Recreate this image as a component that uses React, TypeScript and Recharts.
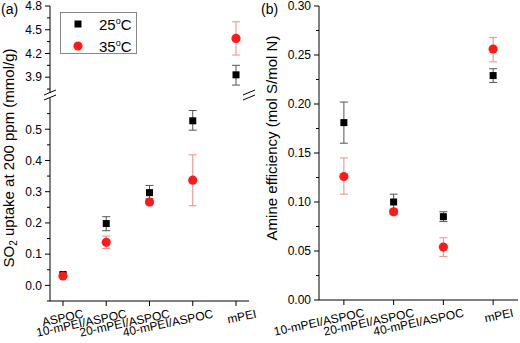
import React from 'react';
import { ScatterChart, Scatter, XAxis, YAxis, ErrorBar } from 'recharts';

// ---------- Data: panel (a) SO2 uptake at 200 ppm (mmol/g) ----------
const categoriesA = ['ASPOC', '10-mPEI/ASPOC', '20-mPEI/ASPOC', '40-mPEI/ASPOC', 'mPEI'];
const uptake25 = [0.035, 0.198, 0.297, 0.527, 3.93];
const uptake25ErrLo = [0.005, 0.023, 0.02, 0.03, 0.13];
const uptake25ErrHi = [0.005, 0.022, 0.023, 0.033, 0.12];
const uptake35 = [0.03, 0.138, 0.267, 0.337, 4.39];
const uptake35ErrLo = [0.004, 0.02, 0.004, 0.082, 0.21];
const uptake35ErrHi = [0.004, 0.02, 0.004, 0.081, 0.21];

// ---------- Data: panel (b) Amine efficiency (mol S/mol N) ----------
const categoriesB = ['10-mPEI/ASPOC', '20-mPEI/ASPOC', '40-mPEI/ASPOC', 'mPEI'];
const eff25 = [0.181, 0.1, 0.085, 0.229];
const eff25ErrLo = [0.021, 0.008, 0.005, 0.007];
const eff25ErrHi = [0.021, 0.008, 0.005, 0.007];
const eff35 = [0.126, 0.09, 0.054, 0.256];
const eff35ErrLo = [0.018, 0.003, 0.0095, 0.013];
const eff35ErrHi = [0.019, 0.003, 0.0095, 0.012];

// ---------- Tick labels ----------
const upperMajorTicks = [3.9, 4.2, 4.5, 4.8];
const upperMinorTicks = [3.75, 4.05, 4.35, 4.65];
const lowerMajorTicks = [0, 0.1, 0.2, 0.3, 0.4, 0.5];
const lowerMinorTicks = [-0.05, 0.05, 0.15, 0.25, 0.35, 0.45, 0.55];
const effMajorTicks = [0, 0.05, 0.1, 0.15, 0.2, 0.25, 0.3];
const effMinorTicks = [0.025, 0.075, 0.125, 0.175, 0.225, 0.275];
const seriesNames = ['25', '35'];

const FONT = 'Liberation Sans, Arial, sans-serif';
const RED = '#ff1a1a';
const RED_ERR = '#f08a8a';
const BLACK_ERR = '#555555';

const build = (vals: number[], lo: number[], hi: number[]) =>
  vals.map((v, i) => ({ x: i, y: v, e: [lo[i], hi[i]] }));

const a25 = build(uptake25, uptake25ErrLo, uptake25ErrHi);
const a35 = build(uptake35, uptake35ErrLo, uptake35ErrHi);
const a25Upper = a25.filter((d) => d.y > 1);
const a35Upper = a35.filter((d) => d.y > 1);
const a25Lower = a25.filter((d) => d.y <= 1);
const a35Lower = a35.filter((d) => d.y <= 1);
const b25 = build(eff25, eff25ErrLo, eff25ErrHi);
const b35 = build(eff35, eff35ErrLo, eff35ErrHi);

const isIn = (arr: number[], v: number) => arr.some((a) => Math.abs(a - v) < 1e-9);
const merge = (a: number[], b: number[]) => [...a, ...b].sort((p, q) => p - q);

const makeYTick = (majors: number[], digits: number) => (props: any) => {
  const { x, y, payload } = props;
  const major = isIn(majors, payload.value);
  return (
    <g>
      <line x1={x} x2={x - (major ? 5 : 3)} y1={y} y2={y} stroke="#000" strokeWidth={1} />
      {major && (
        <text
          x={x - 8}
          y={y + 4.3}
          textAnchor="end"
          style={{ fontSize: '12px', fontFamily: FONT }}
          fill="#000"
        >
          {payload.value.toFixed(digits)}
        </text>
      )}
    </g>
  );
};

const makeXTick = (cats: string[]) => (props: any) => {
  const { x, y, payload } = props;
  const label = cats[payload.value];
  if (label === undefined) return <g />;
  const tx = x + 21;
  const ty = y + 16.5;
  return (
    <g>
      <line x1={x} x2={x} y1={y} y2={y + 5} stroke="#000" strokeWidth={1} />
      <g transform={`translate(${tx},${ty}) rotate(-12)`}>
        <text
          x={0}
          y={0}
          textAnchor="end"
          style={{ fontSize: '12px', fontFamily: FONT }}
          fill="#000"
        >
          {label}
        </text>
      </g>
    </g>
  );
};

const squareShape = (p: any) => (
  <rect x={p.cx - 3.5} y={p.cy - 3.5} width={7} height={7} fill="#000" />
);
const circleShape = (p: any) => <circle cx={p.cx} cy={p.cy} r={4.6} fill={RED} />;

const SO2Label = () => (
  <g transform="translate(14,158) rotate(-90)">
    <text x={0} y={0} textAnchor="middle" style={{ fontSize: '15px', fontFamily: FONT }} fill="#000">
      <tspan>SO</tspan>
      <tspan style={{ fontSize: '10px' }} dy={3}>2</tspan>
      <tspan dy={-3}> uptake at 200 ppm (mmol/g)</tspan>
    </text>
  </g>
);

const EffLabel = () => (
  <g transform="translate(17,138) rotate(-90)">
    <text x={0} y={0} textAnchor="middle" style={{ fontSize: '15px', fontFamily: FONT }} fill="#000">
      Amine efficiency (mol S/mol N)
    </text>
  </g>
);

const errProps = { direction: 'y' as const, dataKey: 'e', width: 4, strokeWidth: 1 };

export default function App() {
  return (
    <div
      style={{
        position: 'absolute',
        left: 0,
        top: 0,
        width: 520,
        height: 343,
        background: '#fff',
        overflow: 'hidden',
        fontFamily: FONT,
      }}
    >
      {/* Panel (a) lower segment */}
      <div style={{ position: 'absolute', left: 0, top: 0 }}>
        <ScatterChart width={260} height={343} margin={{ top: 98, right: 11, bottom: 2, left: 10 }}>
          <XAxis
            type="number"
            dataKey="x"
            domain={[-0.3, 4.3]}
            allowDataOverflow
            ticks={[0, 1, 2, 3, 4]}
            interval={0}
            height={40}
            tickSize={0}
            tickMargin={0}
            tickLine={false}
            tick={makeXTick(categoriesA)}
            stroke="#000"
          />
          <YAxis
            type="number"
            dataKey="y"
            domain={[-0.05, 0.6]}
            allowDataOverflow
            ticks={merge(lowerMajorTicks, lowerMinorTicks)}
            interval={0}
            width={40}
            tickSize={0}
            tickMargin={0}
            tickLine={false}
            tick={makeYTick(lowerMajorTicks, 1)}
            stroke="#000"
            label={<SO2Label />}
          />
          <YAxis
            yAxisId="r"
            orientation="right"
            type="number"
            domain={[-0.05, 0.6]}
            allowDataOverflow
            width={0}
            tick={false}
            tickLine={false}
            stroke="#000"
          />
          <Scatter name={seriesNames[0]} data={a25Lower} shape={squareShape} isAnimationActive={false}>
            <ErrorBar {...errProps} stroke={BLACK_ERR} isAnimationActive={false} />
          </Scatter>
          <Scatter name={seriesNames[1]} data={a35Lower} shape={circleShape} isAnimationActive={false}>
            <ErrorBar {...errProps} stroke={RED_ERR} isAnimationActive={false} />
          </Scatter>
        </ScatterChart>
      </div>

      {/* Panel (a) upper segment */}
      <div style={{ position: 'absolute', left: 0, top: 0 }}>
        <ScatterChart width={260} height={100} margin={{ top: 6, right: 11, bottom: 7, left: 10 }}>
          <XAxis type="number" dataKey="x" domain={[-0.3, 4.3]} allowDataOverflow hide />
          <XAxis
            xAxisId="t"
            orientation="top"
            type="number"
            domain={[-0.3, 4.3]}
            allowDataOverflow
            height={0}
            tick={false}
            tickLine={false}
            stroke="#000"
          />
          <YAxis
            type="number"
            dataKey="y"
            domain={[3.7, 4.8]}
            allowDataOverflow
            ticks={merge(upperMajorTicks, upperMinorTicks)}
            interval={0}
            width={40}
            tickSize={0}
            tickMargin={0}
            tickLine={false}
            tick={makeYTick(upperMajorTicks, 1)}
            stroke="#000"
          />
          <YAxis
            yAxisId="r"
            orientation="right"
            type="number"
            domain={[3.7, 4.8]}
            allowDataOverflow
            width={0}
            tick={false}
            tickLine={false}
            stroke="#000"
          />
          <Scatter name={seriesNames[0]} data={a25Upper} shape={squareShape} isAnimationActive={false}>
            <ErrorBar {...errProps} stroke={BLACK_ERR} isAnimationActive={false} />
          </Scatter>
          <Scatter name={seriesNames[1]} data={a35Upper} shape={circleShape} isAnimationActive={false}>
            <ErrorBar {...errProps} stroke={RED_ERR} isAnimationActive={false} />
          </Scatter>
        </ScatterChart>
      </div>

      {/* Panel (b) */}
      <div style={{ position: 'absolute', left: 260, top: 0 }}>
        <ScatterChart width={260} height={343} margin={{ top: 6, right: 2, bottom: 3, left: 10 }}>
          <XAxis
            type="number"
            dataKey="x"
            domain={[-0.5, 3.5]}
            allowDataOverflow
            ticks={[0, 1, 2, 3]}
            interval={0}
            height={40}
            tickSize={0}
            tickMargin={0}
            tickLine={false}
            tick={makeXTick(categoriesB)}
            stroke="#000"
          />
          <XAxis
            xAxisId="t"
            orientation="top"
            type="number"
            domain={[-0.5, 3.5]}
            allowDataOverflow
            height={0}
            tick={false}
            tickLine={false}
            stroke="#000"
          />
          <YAxis
            type="number"
            dataKey="y"
            domain={[0, 0.3]}
            allowDataOverflow
            ticks={merge(effMajorTicks, effMinorTicks)}
            interval={0}
            width={49}
            tickSize={0}
            tickMargin={0}
            tickLine={false}
            tick={makeYTick(effMajorTicks, 2)}
            stroke="#000"
            label={<EffLabel />}
          />
          <YAxis
            yAxisId="r"
            orientation="right"
            type="number"
            domain={[0, 0.3]}
            allowDataOverflow
            width={0}
            tick={false}
            tickLine={false}
            stroke="#000"
          />
          <Scatter name={seriesNames[0]} data={b25} shape={squareShape} isAnimationActive={false}>
            <ErrorBar {...errProps} stroke={BLACK_ERR} isAnimationActive={false} />
          </Scatter>
          <Scatter name={seriesNames[1]} data={b35} shape={circleShape} isAnimationActive={false}>
            <ErrorBar {...errProps} stroke={RED_ERR} isAnimationActive={false} />
          </Scatter>
        </ScatterChart>
      </div>

      {/* Overlay: panel labels, legend, axis breaks */}
      <svg
        width={520}
        height={343}
        style={{ position: 'absolute', left: 0, top: 0, pointerEvents: 'none' }}
      >
        <line x1={44} y1={95} x2={56} y2={90} stroke="#000" strokeWidth={1} />
        <line x1={44} y1={100} x2={56} y2={95} stroke="#000" strokeWidth={1} />
        <line x1={243} y1={95} x2={255} y2={90} stroke="#000" strokeWidth={1} />
        <line x1={243} y1={100} x2={255} y2={95} stroke="#000" strokeWidth={1} />

        <text x={1} y={14} style={{ fontSize: '14px', fontFamily: FONT }} fill="#000">(a)</text>
        <text x={261} y={14} style={{ fontSize: '14px', fontFamily: FONT }} fill="#000">(b)</text>

        <rect x={60.5} y={12.5} width={76} height={41} fill="#fff" stroke="#888" strokeWidth={1} />
        <rect x={74.5} y={20.5} width={7} height={7} fill="#000" />
        <circle cx={78} cy={46} r={4.6} fill={RED} />
        <text x={99} y={30} style={{ fontSize: '15px', fontFamily: FONT }} fill="#000">
          {seriesNames[0]}
          <tspan style={{ fontSize: '9px' }} dy={-6}>o</tspan>
          <tspan dy={6}>C</tspan>
        </text>
        <text x={99} y={51.5} style={{ fontSize: '15px', fontFamily: FONT }} fill="#000">
          {seriesNames[1]}
          <tspan style={{ fontSize: '9px' }} dy={-6}>o</tspan>
          <tspan dy={6}>C</tspan>
        </text>
      </svg>
    </div>
  );
}
